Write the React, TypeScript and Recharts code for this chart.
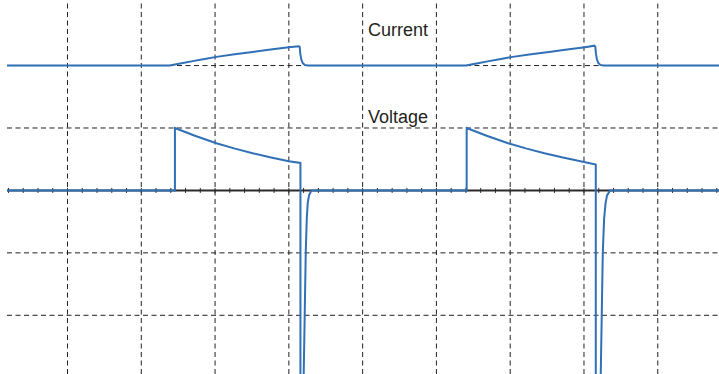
import React from "react";
import { LineChart, Line, XAxis, YAxis, ReferenceLine, ReferenceDot } from "recharts";

// time in screen divisions, amplitude in divisions
const currentData = [
  { t: 0.18, v: 2.0 },
  { t: 2.384, v: 2.0 },
  { t: 2.547, v: 2.038 },
  { t: 2.696, v: 2.071 },
  { t: 2.859, v: 2.106 },
  { t: 3.018, v: 2.139 },
  { t: 3.266, v: 2.18 },
  { t: 3.51, v: 2.217 },
  { t: 3.754, v: 2.256 },
  { t: 3.999, v: 2.293 },
  { t: 4.134, v: 2.309 },
  { t: 4.147, v: 2.3 },
  { t: 4.155, v: 2.19 },
  { t: 4.168, v: 2.1 },
  { t: 4.188, v: 2.04 },
  { t: 4.215, v: 2.01 },
  { t: 4.256, v: 2.0 },
  { t: 6.4, v: 2.0 },
  { t: 6.563, v: 2.038 },
  { t: 6.712, v: 2.071 },
  { t: 6.875, v: 2.106 },
  { t: 7.034, v: 2.139 },
  { t: 7.282, v: 2.18 },
  { t: 7.526, v: 2.217 },
  { t: 7.77, v: 2.256 },
  { t: 8.015, v: 2.293 },
  { t: 8.141, v: 2.318 },
  { t: 8.154, v: 2.3 },
  { t: 8.162, v: 2.19 },
  { t: 8.175, v: 2.1 },
  { t: 8.195, v: 2.04 },
  { t: 8.222, v: 2.01 },
  { t: 8.263, v: 2.0 },
  { t: 9.83, v: 2.0 },
];

const voltageData = [
  { t: 0.18, v: 0 },
  { t: 2.456, v: 0 },
  { t: 2.456, v: 1.0 },
  { t: 2.727, v: 0.875 },
  { t: 3.018, v: 0.755 },
  { t: 3.27, v: 0.67 },
  { t: 3.51, v: 0.596 },
  { t: 3.745, v: 0.531 },
  { t: 3.999, v: 0.469 },
  { t: 4.157, v: 0.44 },
  { t: 4.157, v: -4.0 },
  { t: 4.175, v: -4.2 },
  { t: 4.202, v: -2.9 },
  { t: 4.229, v: -1.0 },
  { t: 4.243, v: -0.45 },
  { t: 4.256, v: -0.2 },
  { t: 4.274, v: -0.08 },
  { t: 4.307, v: 0 },
  { t: 6.41, v: 0 },
  { t: 6.41, v: 1.0 },
  { t: 6.681, v: 0.875 },
  { t: 6.972, v: 0.755 },
  { t: 7.224, v: 0.67 },
  { t: 7.464, v: 0.596 },
  { t: 7.699, v: 0.531 },
  { t: 7.953, v: 0.469 },
  { t: 8.16, v: 0.413 },
  { t: 8.16, v: -4.0 },
  { t: 8.191, v: -4.2 },
  { t: 8.228, v: -2.9 },
  { t: 8.255, v: -1.0 },
  { t: 8.273, v: -0.45 },
  { t: 8.293, v: -0.2 },
  { t: 8.313, v: -0.08 },
  { t: 8.354, v: 0 },
  { t: 9.83, v: 0 },
];

const xGrid = [1, 2, 3, 4, 5, 6, 7, 8, 9];
const yGrid = [-2, -1, 1, 2];
const minorTicks = [
  0.2, 0.4, 0.6, 0.8, 1.0, 1.2, 1.4, 1.6, 1.8, 2.0, 2.2, 2.4, 2.6, 2.8, 3.0,
  3.2, 3.4, 3.6, 3.8, 4.0, 4.2, 4.4, 4.6, 4.8, 5.0, 5.2, 5.4, 5.6, 5.8, 6.0,
  6.2, 6.4, 6.6, 6.8, 7.0, 7.2, 7.4, 7.6, 7.8, 8.0, 8.2, 8.4, 8.6, 8.8, 9.0,
  9.2, 9.4, 9.6, 9.8,
];

const labels = [
  { name: "Current", t: 5.073, v: 2.478 },
  { name: "Voltage", t: 5.073, v: 1.084 },
];

const BLUE = "#2f70b6";
const INK = "#231f20";

function TextLabel(props: any) {
  const vb = props.viewBox || {};
  return (
    <text
      x={vb.x}
      y={vb.y}
      fill={INK}
      fontSize={18}
      fontFamily="Liberation Sans, Arial, sans-serif"
      textAnchor="start"
    >
      {props.text}
    </text>
  );
}

export default function App() {
  return (
    <div style={{ position: "absolute", left: 0, top: 0, background: "#fff" }}>
      <LineChart
        width={719}
        height={374}
        margin={{ top: 0, right: 0, bottom: 0, left: 7 }}
      >
        <XAxis
          type="number"
          dataKey="t"
          domain={[0.18, 9.83]}
          allowDataOverflow
          hide
        />
        <YAxis
          type="number"
          dataKey="v"
          domain={[-2.94, 3.05]}
          allowDataOverflow
          hide
        />
        {xGrid.map((t) => (
          <ReferenceLine
            key={`gx-${t}`}
            x={t}
            stroke="#222"
            strokeWidth={1}
            strokeDasharray="5 3.5"
          />
        ))}
        {yGrid.map((v) => (
          <ReferenceLine
            key={`gy-${v}`}
            y={v}
            stroke="#222"
            strokeWidth={1}
            strokeDasharray="5 3.5"
          />
        ))}
        <ReferenceLine y={0} stroke="#2a2a2a" strokeWidth={2} ifOverflow="visible" />
        {minorTicks.map((t) => (
          <ReferenceLine
            key={`mt-${t}`}
            segment={[
              { x: t, y: -0.04 },
              { x: t, y: 0.04 },
            ]}
            stroke="#2a2a2a"
            strokeWidth={1}
            ifOverflow="visible"
          />
        ))}
        <Line
          data={currentData}
          dataKey="v"
          type="linear"
          stroke={BLUE}
          strokeWidth={2}
          dot={false}
          isAnimationActive={false}
        />
        <Line
          data={voltageData}
          dataKey="v"
          type="linear"
          stroke={BLUE}
          strokeWidth={2}
          dot={false}
          isAnimationActive={false}
        />
        {labels.map((l) => (
          <ReferenceDot
            key={l.name}
            x={l.t}
            y={l.v}
            r={0}
            fill="none"
            stroke="none"
            label={<TextLabel text={l.name} />}
          />
        ))}
      </LineChart>
    </div>
  );
}
